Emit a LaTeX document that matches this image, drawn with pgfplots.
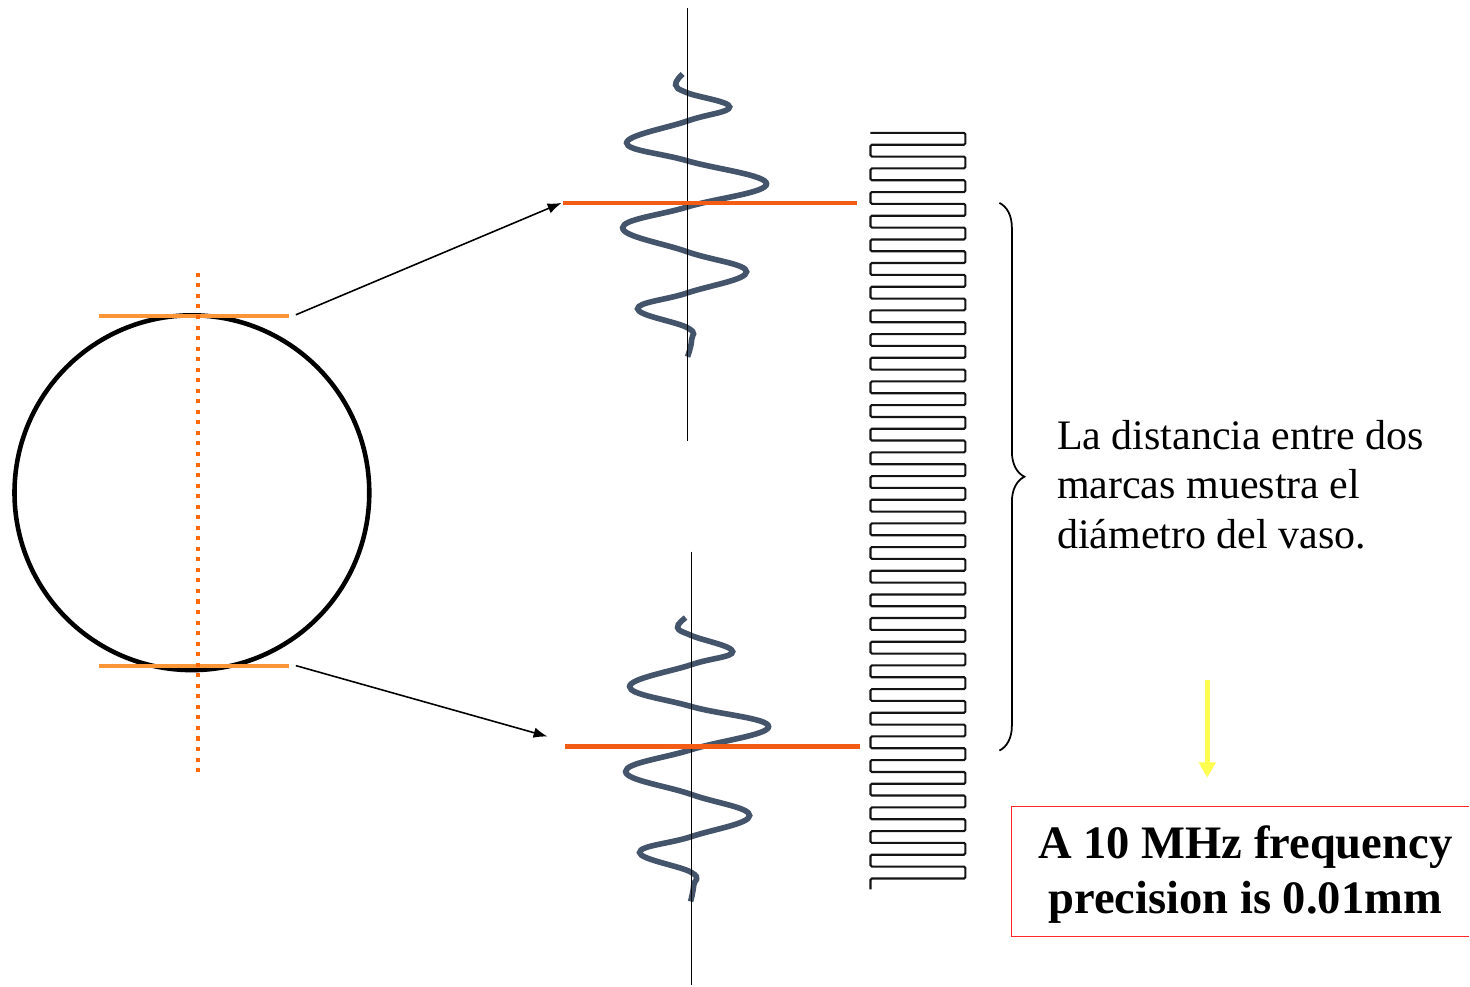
\documentclass[border=0pt]{standalone}
\usepackage{pgfplots}
\pgfplotsset{compat=1.18}
\usepackage{fontspec}
\setmainfont{Liberation Serif}
\usetikzlibrary{arrows.meta,decorations.pathreplacing}
\definecolor{wave}{RGB}{68,84,106}
\definecolor{redor}{RGB}{242,92,20}
\definecolor{lightor}{RGB}{250,150,55}
\definecolor{dotor}{RGB}{255,105,10}
\definecolor{boxred}{RGB}{255,40,40}
\definecolor{yel}{RGB}{255,255,80}
\definecolor{comb}{RGB}{20,20,20}
\begin{document}
\begin{tikzpicture}
\begin{axis}[hide axis, scale only axis, width=14.7cm, height=9.86cm,
  xmin=0, xmax=1470, ymin=0, ymax=986, y dir=reverse, clip=false]
% bounding box
\addplot[draw=none, forget plot] coordinates {(0,0) (1470,986)};
% circle
\draw[black, line width=1.3pt] (axis cs:192,493) circle[radius=1.775cm];
% orange tangent lines
\addplot[lightor, line width=1.2pt] coordinates {(99,316) (289,316)};
\addplot[lightor, line width=1.2pt] coordinates {(99,666) (289,666)};
% dotted diameter
\addplot[dotor, line width=1.15pt, dash pattern=on 1.15pt off 1.85pt] coordinates {(198,273) (198,773)};
% arrows
\addplot[black, line width=0.45pt, -{Latex[length=4pt,width=3pt]}] coordinates {(296,315) (562,203)};
\addplot[black, line width=0.45pt, -{Latex[length=4pt,width=3pt]}] coordinates {(296,666) (548,737)};
% upper wave
\addplot[wave, line width=1.6pt, smooth, tension=0.7] coordinates {
(683,74) (676,85) (688,93) (730,107) (688,121) (627,143) (688,161) (767,184)
(688,207) (623,228) (688,252) (747,272) (688,293) (638,309) (688,328) (692,340) (688,357)};
% lower wave
\addplot[wave, line width=1.6pt, smooth, tension=0.7] coordinates {
(686,618) (678,628) (692,636) (733,652) (692,665) (630,687) (692,707) (769,727)
(692,750) (626,772) (692,795) (750,816) (692,837) (640,853) (692,873) (694,886) (691,902)};
% vertical thin lines
\addplot[black, line width=0.45pt] coordinates {(688,8) (688,441)};
\addplot[black, line width=0.45pt] coordinates {(692,552) (692,986)};
% red-orange lines
\addplot[redor, line width=1.2pt] coordinates {(563,203) (857,203)};
\addplot[redor, line width=1.2pt] coordinates {(565,747) (860,747)};
% comb
\addplot[comb, line width=0.6pt, rounded corners=0.4pt] coordinates {
(871,133) (966,133) (966,144.8) (871,144.8) (871,156.7) (966,156.7) (966,168.5) (871,168.5)
(871,180.4) (966,180.4) (966,192.2) (871,192.2) (871,204.0) (966,204.0) (966,215.9) (871,215.9)
(871,227.7) (966,227.7) (966,239.6) (871,239.6) (871,251.4) (966,251.4) (966,263.2) (871,263.2)
(871,275.1) (966,275.1) (966,286.9) (871,286.9) (871,298.8) (966,298.8) (966,310.6) (871,310.6)
(871,322.4) (966,322.4) (966,334.3) (871,334.3) (871,346.1) (966,346.1) (966,358.0) (871,358.0)
(871,369.8) (966,369.8) (966,381.6) (871,381.6) (871,393.5) (966,393.5) (966,405.3) (871,405.3)
(871,417.2) (966,417.2) (966,429.0) (871,429.0) (871,440.8) (966,440.8) (966,452.7) (871,452.7)
(871,464.5) (966,464.5) (966,476.4) (871,476.4) (871,488.2) (966,488.2) (966,500.0) (871,500.0)
(871,511.9) (966,511.9) (966,523.7) (871,523.7) (871,535.6) (966,535.6) (966,547.4) (871,547.4)
(871,559.2) (966,559.2) (966,571.1) (871,571.1) (871,582.9) (966,582.9) (966,594.8) (871,594.8)
(871,606.6) (966,606.6) (966,618.4) (871,618.4) (871,630.3) (966,630.3) (966,642.1) (871,642.1)
(871,654.0) (966,654.0) (966,665.8) (871,665.8) (871,677.6) (966,677.6) (966,689.5) (871,689.5)
(871,701.3) (966,701.3) (966,713.2) (871,713.2) (871,725.0) (966,725.0) (966,736.8) (871,736.8)
(871,748.7) (966,748.7) (966,760.5) (871,760.5) (871,772.4) (966,772.4) (966,784.2) (871,784.2)
(871,796.0) (966,796.0) (966,807.9) (871,807.9) (871,819.7) (966,819.7) (966,831.6) (871,831.6)
(871,843.4) (966,843.4) (966,855.2) (871,855.2) (871,867.1) (966,867.1) (966,879.0) (871,879.0)
(871,890)};
% brace
\draw[black, line width=0.5pt, decorate, decoration={brace, amplitude=0.25cm}] (axis cs:1000,203) -- (axis cs:1000,751);
% text
\node[anchor=west, align=left, font=\fontsize{11.95pt}{14.2pt}\selectfont, inner sep=0pt] at (axis cs:1057,485)
  {La distancia entre dos\\marcas muestra el\\diámetro del vaso.};
% yellow arrow
\addplot[yel, line width=1.4pt, -{Triangle[length=4.3pt,width=4.6pt]}] coordinates {(1208,680) (1208,778)};
% red box (right side cut at the edge)
\addplot[boxred, line width=0.5pt] coordinates {(1470,807) (1012,807) (1012,937) (1470,937)};
\node[align=center, font=\bfseries\fontsize{13.25pt}{15.6pt}\selectfont, inner sep=0pt] at (axis cs:1246,875)
  {A 10 MHz frequency\\precision is 0.01mm};
\end{axis}
\end{tikzpicture}
\end{document}
